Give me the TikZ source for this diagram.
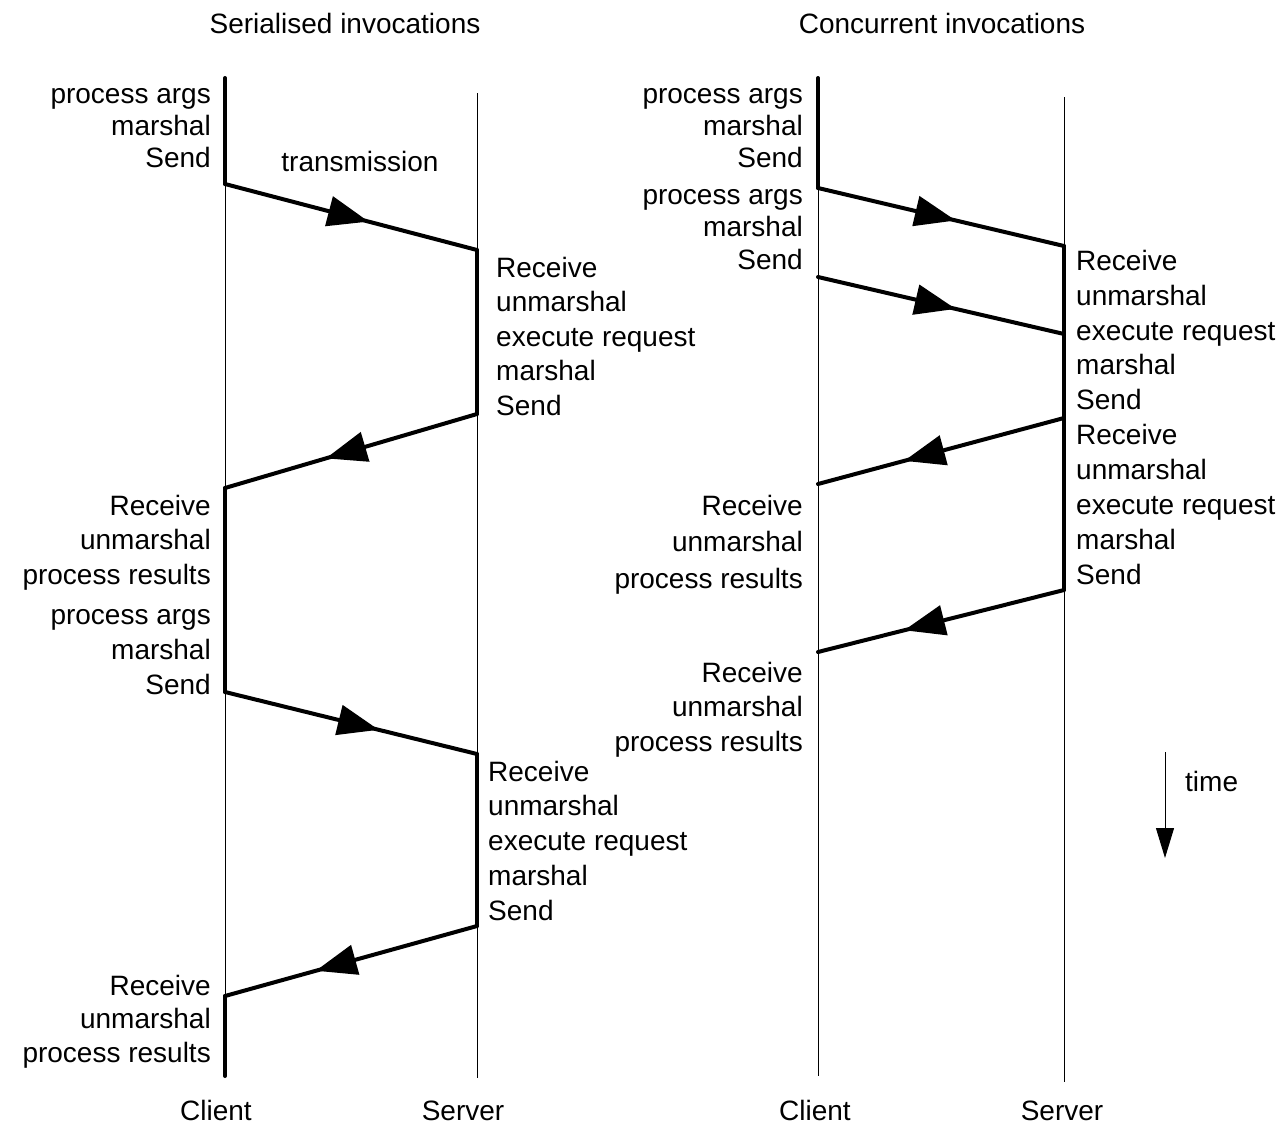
\documentclass[tikz,border=0pt]{standalone}
\usepackage{fontspec}
\setmainfont{Liberation Sans}
\usetikzlibrary{arrows.meta, decorations.markings}

\tikzset{
  lifeline/.style={line width=1pt},
  active/.style={line width=4pt, line cap=round},
  msg/.style={line width=4pt, line cap=round, postaction={decorate},
    decoration={markings, mark=at position #1 with {\arrow{Triangle[length=41pt,width=30pt]}}}},
  lbl/.style={font=\fontsize{28}{#1}\selectfont, inner sep=0pt},
  lbl/.default=34,
}

\begin{document}
\begin{tikzpicture}[x=1pt, y=-1pt]
\useasboundingbox (0,0) rectangle (1286,1127);

% titles
\node[lbl, anchor=base] (sertitle) at (345,34) {Serialised invocations};
\node[lbl, anchor=base] (contitle) at (942,34) {Concurrent invocations};

% --- serialised invocations ---
\coordinate (c1top) at (225,78);
\coordinate (c1bot) at (225,1076);
\coordinate (s1top) at (477,93);
\coordinate (s1bot) at (477,1078);
\coordinate (c1a) at (225,184);
\coordinate (s1a) at (477,250);
\coordinate (s1b) at (477,414);
\coordinate (c1b) at (225,488);
\coordinate (c1c) at (225,692);
\coordinate (s1c) at (477,754);
\coordinate (s1d) at (477,926);
\coordinate (c1d) at (225,996);

\draw[lifeline] (c1top) -- (c1bot);
\draw[lifeline] (s1top) -- (s1bot);

\draw[active] (c1top) -- (c1a);
\draw[active] (s1a) -- (s1b);
\draw[active] (c1b) -- (c1c);
\draw[active] (s1c) -- (s1d);
\draw[active] (c1d) -- (c1bot);

\draw[msg=0.57] (c1a) -- (s1a);
\draw[msg=0.60] (s1b) -- (c1b);
\draw[msg=0.61] (c1c) -- (s1c);
\draw[msg=0.64] (s1d) -- (c1d);

\node[lbl=32, align=right, anchor=north east] (callone) at (211,80.6)
  {\strut process args\\marshal\\Send};
\node[lbl, anchor=base] (trans) at (360,171) {transmission};
\node[lbl=34.5, align=left, anchor=north west] (servone) at (496,252.9)
  {\strut Receive\\unmarshal\\execute request\\marshal\\Send};
\node[lbl=34.5, align=right, anchor=north east] (resone) at (211,490.9)
  {\strut Receive\\unmarshal\\process results};
\node[lbl=35, align=right, anchor=north east] (calltwo) at (211,599.5)
  {\strut process args\\marshal\\Send};
\node[lbl=34.75, align=left, anchor=north west] (servtwo) at (488,756.7)
  {\strut Receive\\unmarshal\\execute request\\marshal\\Send};
\node[lbl=33.5, align=right, anchor=north east] (restwo) at (211,971.6)
  {\strut Receive\\unmarshal\\process results};

\node[lbl, anchor=base] (client1) at (216,1120) {Client};
\node[lbl, anchor=base] (server1) at (463,1120) {Server};

% --- concurrent invocations ---
\coordinate (c2top) at (818,78);
\coordinate (c2bot) at (818,1076);
\coordinate (s2top) at (1064,97);
\coordinate (s2bot) at (1064,1082);
\coordinate (c2a) at (818,188);
\coordinate (c2b) at (818,277);
\coordinate (s2a) at (1064,246);
\coordinate (s2b) at (1064,334);
\coordinate (s2c) at (1064,418);
\coordinate (s2d) at (1064,590);
\coordinate (c2c) at (818,484);
\coordinate (c2d) at (818,652);

\draw[lifeline] (c2top) -- (c2bot);
\draw[lifeline] (s2top) -- (s2bot);

\draw[active] (c2top) -- (c2a);
\draw[active] (s2a) -- (s2d);

\draw[msg=0.56] (c2a) -- (s2a);
\draw[msg=0.56] (c2b) -- (s2b);
\draw[msg=0.65] (s2c) -- (c2c);
\draw[msg=0.65] (s2d) -- (c2d);

\node[lbl=32, align=right, anchor=north east] (callthree) at (803,80.6)
  {\strut process args\\marshal\\Send};
\node[lbl=32.5, align=right, anchor=north east] (callfour) at (803,181.3)
  {\strut process args\\marshal\\Send};
\node[lbl=34.9, align=left, anchor=north west] (servthree) at (1076,245.6)
  {\strut Receive\\unmarshal\\execute request\\marshal\\Send\\Receive\\unmarshal\\execute request\\marshal\\Send};
\node[lbl=36.5, align=right, anchor=north east] (resthree) at (803,489.5)
  {\strut Receive\\unmarshal\\process results};
\node[lbl=34.5, align=right, anchor=north east] (resfour) at (803,657.9)
  {\strut Receive\\unmarshal\\process results};

\node[lbl, anchor=base] (client2) at (815,1120) {Client};
\node[lbl, anchor=base] (server2) at (1062,1120) {Server};

% time arrow
\coordinate (tstart) at (1165,752);
\coordinate (tend) at (1165,858);
\draw[lifeline, -{Triangle[length=30pt,width=18pt]}] (tstart) -- (tend);
\node[lbl, anchor=base west] (timelbl) at (1185,791) {time};
\end{tikzpicture}
\end{document}
